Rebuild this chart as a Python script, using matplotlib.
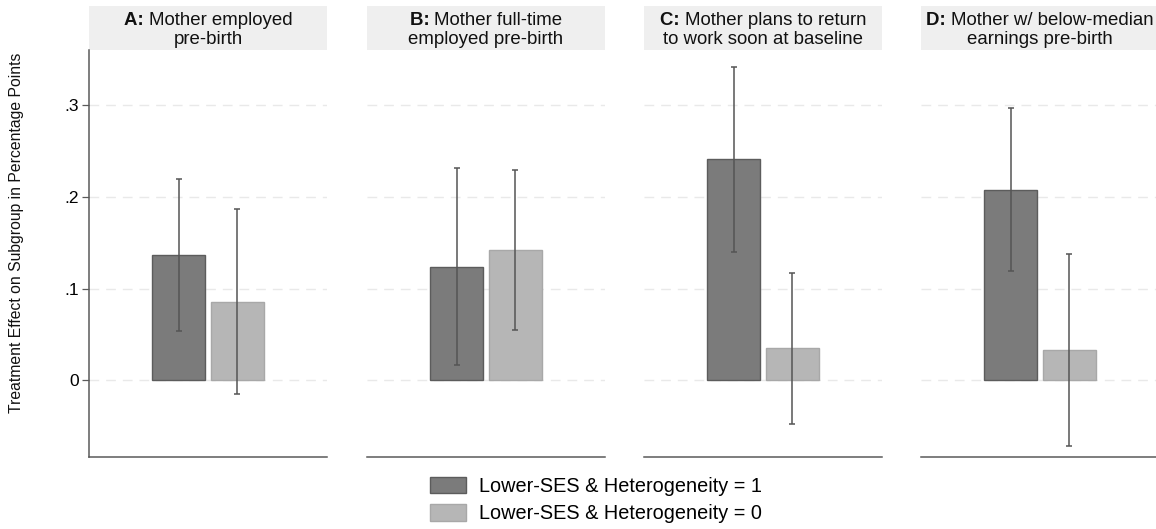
import matplotlib
matplotlib.use("Agg")
import matplotlib.pyplot as plt
from matplotlib.patches import Rectangle, Patch

plt.rcParams["font.family"] = ["Liberation Sans", "DejaVu Sans"]

# panel headers
panel_keys = ["A:", "B:", "C:", "D:"]
panel_lines1 = ["Mother employed", "Mother full-time", "Mother plans to return", "Mother w/ below-median"]
panel_lines2 = ["pre-birth", "employed pre-birth", "to work soon at baseline", "earnings pre-birth"]

# estimates (Heterogeneity = 1, Heterogeneity = 0)
est_1 = [0.137, 0.124, 0.241, 0.208]
lo_1 = [0.054, 0.016, 0.140, 0.119]
hi_1 = [0.220, 0.232, 0.342, 0.297]
est_0 = [0.085, 0.142, 0.035, 0.033]
lo_0 = [-0.015, 0.055, -0.048, -0.072]
hi_0 = [0.187, 0.229, 0.117, 0.138]

series_labels = ["Lower-SES & Heterogeneity = 1", "Lower-SES & Heterogeneity = 0"]
ytick_vals = [0, 0.1, 0.2, 0.3]
ytick_labels = ["0", ".1", ".2", ".3"]

W, H = 1156, 529
fig = plt.figure(figsize=(W / 100, H / 100), dpi=100)
renderer = fig.canvas.get_renderer()

dark_fill, dark_edge = "#7b7b7b", "#5c5c5c"
light_fill, light_edge = "#b6b6b6", "#a8a8a8"
err_col = "#555555"
spine_col = "#5a5a5a"
title_fs = 13.4

lefts = [89, 367, 644, 921]
pw = 238
top_px, bot_px = 50, 457
ah = bot_px - top_px

for i, lp in enumerate(lefts):
    ax = fig.add_axes([lp / W, 1 - bot_px / H, pw / W, ah / H])
    ax.set_ylim(-0.084, 0.3606)
    ax.set_xlim(-0.525, 3.525)

    for yv in ytick_vals:
        ax.axhline(yv, color="#e9e9e9", lw=1, ls=(0, (7, 5)), zorder=0)

    ax.bar([1], [est_1[i]], width=0.9, color=dark_fill, edgecolor=dark_edge, lw=1, zorder=2)
    ax.bar([2], [est_0[i]], width=0.9, color=light_fill, edgecolor=light_edge, lw=1, zorder=2)
    ax.errorbar([1], [est_1[i]], yerr=[[est_1[i] - lo_1[i]], [hi_1[i] - est_1[i]]],
                fmt="none", ecolor=err_col, elinewidth=1.1, capsize=2.5, capthick=1.1, zorder=3)
    ax.errorbar([2], [est_0[i]], yerr=[[est_0[i] - lo_0[i]], [hi_0[i] - est_0[i]]],
                fmt="none", ecolor=err_col, elinewidth=1.1, capsize=2.5, capthick=1.1, zorder=3)

    for s in ["top", "right"]:
        ax.spines[s].set_visible(False)
    ax.spines["bottom"].set_color(spine_col)
    ax.spines["bottom"].set_linewidth(1.1)
    ax.set_xticks([])
    if i == 0:
        ax.spines["left"].set_color(spine_col)
        ax.spines["left"].set_linewidth(1.1)
        ax.set_yticks(ytick_vals)
        ax.set_yticklabels(ytick_labels, fontsize=12.5)
        ax.tick_params(axis="y", length=5, width=0.9, color=spine_col, pad=2.5)
    else:
        ax.spines["left"].set_visible(False)
        ax.set_yticks([])

    band_h = 44 / ah
    ax.add_patch(Rectangle((0, 1), 1, band_h, transform=ax.transAxes,
                           facecolor="#efefef", edgecolor="none", clip_on=False))

    # header: bold key + regular text on line 1, regular line 2
    cx = (lp + pw / 2) / W
    y1 = 1 - 20.5 / H
    y2 = 1 - 39.5 / H
    tb = fig.text(0, y1, panel_keys[i] + " ", fontsize=title_fs, fontweight="bold",
                  ha="left", va="center", color="#111111")
    tr = fig.text(0, y1, panel_lines1[i], fontsize=title_fs, ha="left", va="center", color="#111111")
    wb = tb.get_window_extent(renderer).width / W
    wr = tr.get_window_extent(renderer).width / W
    x0 = cx - (wb + wr) / 2
    tb.set_x(x0)
    tr.set_x(x0 + wb)
    fig.text(cx, y2, panel_lines2[i], fontsize=title_fs, ha="center", va="center", color="#111111")

fig.text(17 / W, 1 - 233 / H, "Treatment Effect on Subgroup in Percentage Points",
         rotation=90, ha="center", va="center", fontsize=11.3, color="#111111")

handles = [Patch(facecolor=dark_fill, edgecolor=dark_edge),
           Patch(facecolor=light_fill, edgecolor=light_edge)]
fig.legend(handles, series_labels, loc="upper left", bbox_to_anchor=(430 / W, 1 - 476.5 / H),
           frameon=False, fontsize=14.3, handlelength=1.8, handleheight=0.92,
           handletextpad=0.68, labelspacing=0.43, borderpad=0, borderaxespad=0)

fig.savefig("out.png", dpi=100, facecolor="white")
